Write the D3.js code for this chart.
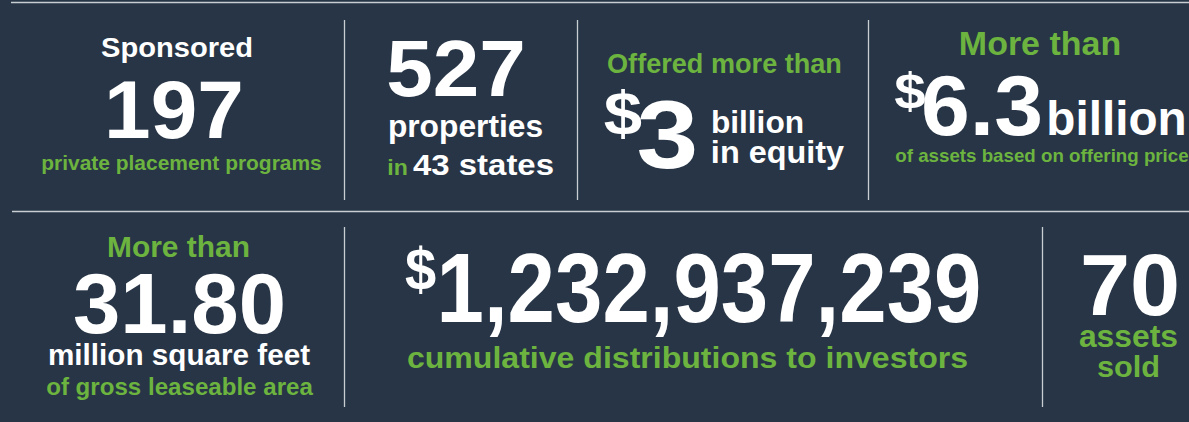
<!DOCTYPE html>
<html>
<head>
<meta charset="utf-8">
<script src="https://cdn.jsdelivr.net/npm/d3@7"></script>
<style>
  html, body { margin: 0; padding: 0; background: #273546; }
  svg { display: block; }
</style>
</head>
<body>
<svg id="chart" width="1189" height="422"></svg>
<script>
// ---- data (text content of each stat panel) ----
const leadLines = ["Sponsored", "", "Offered more than", "More than", "More than", "", ""];
const prefixes  = ["", "", "$", "$", "", "$", ""];
const figures   = ["197", "527", "3", "6.3", "31.80", "1,232,937,239", "70"];
const unitLines = [
  ["private placement programs"],
  ["properties", "in", "43 states"],
  ["billion", "in equity"],
  ["billion", "of assets based on offering price"],
  ["million square feet", "of gross leaseable area"],
  ["cumulative distributions to investors"],
  ["assets", "sold"]
];

// ---- layout ----
const W = 1189, H = 422;
const WHITE = "#ffffff", GREEN = "#6cb43f", BG = "#273546", RULE = "#c9ced3";
const SANS = "'Liberation Sans', Arial, Helvetica, sans-serif";
const NARROW = "'Liberation Sans Narrow', 'Arial Narrow', 'Liberation Sans', sans-serif";

const svg = d3.select("#chart");
svg.append("rect").attr("width", W).attr("height", H).attr("fill", BG);

// rules
const hRules = [{y: 2.5, x1: 11}, {y: 211.5, x1: 12}];
svg.selectAll("line.h").data(hRules).join("line")
  .attr("x1", d => d.x1).attr("x2", W).attr("y1", d => d.y).attr("y2", d => d.y)
  .attr("stroke", RULE).attr("stroke-width", 1.3);
const vRules = [
  {x: 344.5, y1: 20, y2: 200}, {x: 577.5, y1: 20, y2: 200}, {x: 868.5, y1: 20, y2: 200},
  {x: 344.5, y1: 227, y2: 407}, {x: 1042.5, y1: 227, y2: 407}
];
svg.selectAll("line.v").data(vRules).join("line")
  .attr("x1", d => d.x).attr("x2", d => d.x).attr("y1", d => d.y1).attr("y2", d => d.y2)
  .attr("stroke", RULE).attr("stroke-width", 1.3);

// placement of each text piece: [left, inkWidth, baseline, fontSize, colour, font]
const leadPos = [
  [102, 150, 57, 28, WHITE], null, [608, 233, 73, 27, GREEN], [960, 160, 55, 33, GREEN],
  [108, 141, 257, 29, GREEN], null, null
];
const prefixPos = [null, null, [606, 34, 134, 62], [896, 28, 108, 50], null, [407, 27, 290, 60, WHITE, NARROW], null];
const figurePos = [
  [107, 134, 138, 82], [389, 134, 96, 80], [640, 55, 168, 96], [924, 116, 135, 86],
  [76, 207, 333, 85], [440, 538, 322, 99, WHITE, NARROW], [1083, 94, 315, 88]
];
const unitPos = [
  [[42, 279, 170, 21, GREEN]],
  [[389, 153, 137, 32, WHITE], [388, 19, 175, 22, GREEN], [414, 139, 175, 29, WHITE]],
  [[712, 91, 133, 31, WHITE], [712, 131, 163, 32, WHITE]],
  [[1048, 137, 135, 48, WHITE], [896, 292, 162, 18.6, GREEN]],
  [[49, 260, 365, 29, WHITE], [47, 265, 395, 24, GREEN]],
  [[408, 559, 368, 30, GREEN]],
  [[1080, 97, 347, 31, GREEN], [1098, 61, 377, 30, GREEN]]
];

const pieces = [];
figures.forEach((f, i) => {
  if (leadLines[i] && leadPos[i]) pieces.push({text: leadLines[i], p: leadPos[i]});
  if (prefixes[i] && prefixPos[i]) pieces.push({text: prefixes[i], p: prefixPos[i]});
  pieces.push({text: f, p: figurePos[i]});
  unitLines[i].forEach((u, j) => pieces.push({text: u, p: unitPos[i][j]}));
});

svg.selectAll("text.stat").data(pieces).join("text")
  .attr("class", "stat")
  .attr("x", d => d.p[0] - d.p[3] * 0.035)
  .attr("y", d => d.p[2])
  .attr("font-family", d => d.p[5] || SANS)
  .attr("font-weight", 700)
  .attr("font-size", d => d.p[3])
  .attr("fill", d => d.p[4] || WHITE)
  .attr("textLength", d => d.p[1] + d.p[3] * 0.07)
  .attr("lengthAdjust", "spacingAndGlyphs")
  .text(d => d.text);
</script>
</body>
</html>
